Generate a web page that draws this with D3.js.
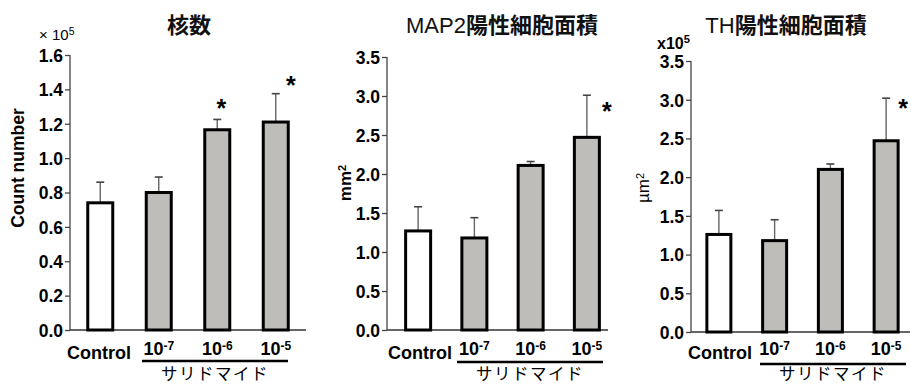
<!DOCTYPE html>
<html><head><meta charset="utf-8">
<script src="https://cdn.jsdelivr.net/npm/d3@7"></script>
<style>
html,body{margin:0;padding:0;background:#fff;}
svg{display:block;}
</style></head>
<body>
<svg id="chart" width="911" height="385"></svg>
<script>
// ---- data ----
const categories = ["Control", "10-7", "10-6", "10-5"];
const exponents = [null, "-7", "-6", "-5"];
const groupLabel = "サリドマイド";

const nucleiMean = [0.74, 0.80, 1.165, 1.21];
const nucleiSD   = [0.12, 0.09, 0.06, 0.165];
const nucleiSig  = [false, false, true, true];
const nucleiTicks = [0, 0.2, 0.4, 0.6, 0.8, 1.0, 1.2, 1.4, 1.6];

const map2Mean = [1.27, 1.18, 2.11, 2.47];
const map2SD   = [0.31, 0.26, 0.05, 0.54];
const map2Sig  = [false, false, false, true];
const map2Ticks = [0, 0.5, 1.0, 1.5, 2.0, 2.5, 3.0, 3.5];

const thMean = [1.26, 1.18, 2.10, 2.47];
const thSD   = [0.31, 0.27, 0.07, 0.55];
const thSig  = [false, false, false, true];
const thTicks = [0, 0.5, 1.0, 1.5, 2.0, 2.5, 3.0, 3.5];

const titles = ["核数", "MAP2陽性細胞面積", "TH陽性細胞面積"];

// ---- layout ----
const panels = [
  {title: titles[0], mean: nucleiMean, sd: nucleiSD, sig: nucleiSig, ticks: nucleiTicks,
   yMax: 1.6, axisX: 70, yTop: 55, yBot: 330, xRange: [71, 305], baseEnd: 306, titleX: 189,
   barW: 25, starOff: [[0,0],[0,0],[4,-10],[15,-8]],
   yLabel: {text: "Count number", x: 24, y: 168, bold: true, size: 17.5},
   mult: {x: 39, y: 40, size: 15, bold: false, pre: "× 10"},
   ctrlX: 67, lineX: [142, 288], underY: 361},
  {title: titles[1], mean: map2Mean, sd: map2SD, sig: map2Sig, ticks: map2Ticks,
   yMax: 3.5, axisX: 387, yTop: 57, yBot: 330, xRange: [390, 615], baseEnd: 608, titleX: 502,
   barW: 25, starOff: [[0,0],[0,0],[0,0],[20,17]],
   yLabel: {text: "mm", x: 351, y: 183, bold: true, size: 17, sup: "2"},
   mult: null, ctrlX: 388, lineX: [457, 603], underY: 362},
  {title: titles[2], mean: thMean, sd: thSD, sig: thSig, ticks: thTicks,
   yMax: 3.5, axisX: 691, yTop: 61, yBot: 332, xRange: [691, 914], baseEnd: 910, titleX: 786,
   barW: 24, starOff: [[0,0],[0,0],[0,0],[17,11]],
   yLabel: {text: "µm", x: 649, y: 188, bold: false, size: 17, sup: "2"},
   mult: {x: 657, y: 49, size: 16, bold: true, pre: "x10"},
   ctrlX: 688, lineX: [760, 906], underY: 364}
];

const svg = d3.select("#chart");
const LAT = "'Liberation Sans', Arial, Helvetica, sans-serif";
const JP = "'Noto Sans CJK JP', sans-serif";

panels.forEach((p, pi) => {
  const g = svg.append("g");
  const y = d3.scaleLinear().domain([0, p.yMax]).range([p.yBot, p.yTop]);
  const x = d3.scaleBand().domain(categories).range(p.xRange).padding(0);
  const cx = c => x(c) + x.bandwidth() / 2;

  // title: Latin part regular, CJK part bold
  const tt = g.append("text").attr("x", p.titleX).attr("y", 33)
    .attr("text-anchor", "middle").style("font-size", "22px").attr("fill", "#111");
  (p.title.match(/[A-Za-z0-9]+|[^A-Za-z0-9]+/g) || []).forEach(seg => {
    const latin = /^[A-Za-z0-9]+$/.test(seg);
    tt.append("tspan")
      .style("font-family", latin ? LAT : JP)
      .style("font-weight", latin ? "normal" : "bold")
      .text(seg);
  });

  // y axis
  const ax = g.append("g").attr("transform", `translate(${p.axisX},0)`)
    .call(d3.axisLeft(y).tickValues(p.ticks).tickSize(5).tickPadding(2)
      .tickFormat(d3.format(".1f")));
  ax.select(".domain").attr("stroke", "#444").attr("stroke-width", 1.3)
    .attr("d", `M0,${p.yTop}V${p.yBot}`);
  ax.selectAll(".tick line").attr("stroke", "#444").attr("stroke-width", 1.3);
  ax.selectAll(".tick text").style("font-family", LAT).style("font-size", "17.5px")
    .style("font-weight", "bold").attr("fill", "#000").attr("dy", "0.36em");

  // baseline
  g.append("line").attr("x1", p.axisX).attr("x2", p.baseEnd)
    .attr("y1", p.yBot).attr("y2", p.yBot)
    .attr("stroke", "#333").attr("stroke-width", 1.6);

  // error bars
  categories.forEach((c, i) => {
    const top = y(p.mean[i] + p.sd[i]);
    g.append("line").attr("x1", cx(c)).attr("x2", cx(c))
      .attr("y1", y(p.mean[i])).attr("y2", top)
      .attr("stroke", "#666").attr("stroke-width", 1.4);
    g.append("line").attr("x1", cx(c) - 4).attr("x2", cx(c) + 4)
      .attr("y1", top).attr("y2", top)
      .attr("stroke", "#444").attr("stroke-width", 1.6);
  });

  // bars
  g.selectAll("rect.bar").data(categories).enter().append("rect")
    .attr("class", "bar")
    .attr("x", c => cx(c) - p.barW / 2)
    .attr("width", p.barW)
    .attr("y", (c, i) => y(p.mean[i]))
    .attr("height", (c, i) => p.yBot - y(p.mean[i]))
    .attr("fill", (c, i) => i === 0 ? "#ffffff" : "#bebdb9")
    .attr("stroke", "#000").attr("stroke-width", 3);

  // significance stars
  categories.forEach((c, i) => {
    if (!p.sig[i]) return;
    const top = y(p.mean[i] + p.sd[i]);
    g.append("text").attr("x", cx(c) + p.starOff[i][0]).attr("y", top + p.starOff[i][1] + 8)
      .attr("text-anchor", "middle")
      .style("font-family", LAT).style("font-size", "25px").style("font-weight", "bold")
      .attr("fill", "#000").text("*");
  });

  // y label
  const yl = g.append("text")
    .attr("transform", `translate(${p.yLabel.x},${p.yLabel.y}) rotate(-90)`)
    .attr("text-anchor", "middle")
    .style("font-family", LAT).style("font-size", p.yLabel.size + "px")
    .style("font-weight", p.yLabel.bold ? "bold" : "normal").attr("fill", "#000");
  yl.append("tspan").text(p.yLabel.text);
  if (p.yLabel.sup) {
    yl.append("tspan").attr("dy", "-0.5em").style("font-size", "11px").text(p.yLabel.sup);
  }

  // multiplier
  if (p.mult) {
    const mt = g.append("text").attr("x", p.mult.x).attr("y", p.mult.y)
      .style("font-family", LAT).style("font-size", p.mult.size + "px")
      .style("font-weight", p.mult.bold ? "bold" : "normal").attr("fill", "#000");
    mt.append("tspan").text(p.mult.pre);
    mt.append("tspan").attr("dy", "-0.5em").style("font-size", (p.mult.size * 0.7) + "px").text("5");
  }

  // x labels
  g.append("text").attr("x", p.ctrlX).attr("y", 359)
    .style("font-family", LAT).style("font-size", "18px").style("font-weight", "bold")
    .attr("fill", "#000").text(categories[0]);
  categories.forEach((c, i) => {
    if (i === 0) return;
    const t = g.append("text").attr("x", cx(c)).attr("y", 355)
      .attr("text-anchor", "middle")
      .style("font-family", LAT).style("font-size", "18px").style("font-weight", "bold")
      .attr("fill", "#000");
    t.append("tspan").text("10");
    t.append("tspan").attr("dy", "-0.45em").style("font-size", "12px").text(exponents[i]);
  });

  // underline and group label
  g.append("line").attr("x1", p.lineX[0]).attr("x2", p.lineX[1])
    .attr("y1", p.underY).attr("y2", p.underY)
    .attr("stroke", "#000").attr("stroke-width", 2.5);
  g.append("text").attr("x", (p.lineX[0] + p.lineX[1]) / 2).attr("y", 380)
    .attr("text-anchor", "middle")
    .style("font-family", JP).style("font-size", "16.5px").style("letter-spacing", "1.5px")
    .attr("fill", "#000").text(groupLabel);
});
</script>
</body></html>
